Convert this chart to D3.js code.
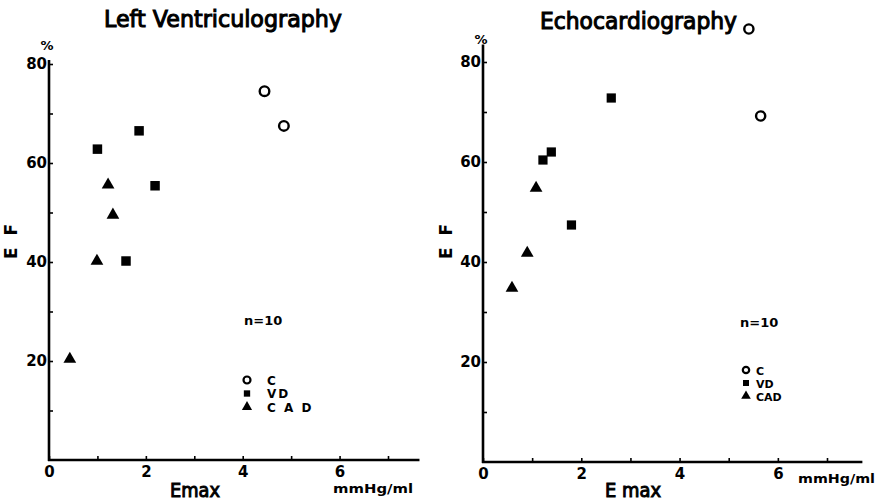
<!DOCTYPE html>
<html><head><meta charset="utf-8">
<script src="https://cdn.jsdelivr.net/npm/d3@7"></script>
<style>
body{margin:0;background:#fff;}
svg text{font-family:"DejaVu Sans",sans-serif;fill:#000;}
</style></head>
<body><svg id="c" width="876" height="502"></svg>
<script>
// Left Ventriculography data (Emax mmHg/ml, EF %)
const lvC   = [[4.45,74.5],[4.85,67.5]];
const lvVD  = [[1.0,62.8],[1.86,66.5],[2.19,55.4],[1.59,40.2]];
const lvCAD = [[1.22,55.4],[1.32,49.3],[0.99,40.0],[0.43,20.2]];
// Echocardiography data
const ecC   = [[5.41,86.6],[5.65,69.2]];
const ecVD  = [[2.61,72.8],[1.22,60.4],[1.39,62.0],[1.80,47.4]];
const ecCAD = [[1.08,54.6],[0.90,41.6],[0.59,34.6]];
// Tick values / labels
const yTicks = [10,20,30,40,50,60,70,80];
const yLabels = [20,40,60,80];
const xTicks = [0,1,2,3,4,5,6,7];
const xLabels = [0,2,4,6];
const titles = ["Left Ventriculography","Echocardiography"];

const svg = d3.select("#c");

function panel(cfg){
  const g = svg.append("g");
  const x = d3.scaleLinear().domain([0,7]).range(cfg.xr);
  const y = d3.scaleLinear().domain([0,80]).range(cfg.yr);
  // axes
  const ya = d3.axisLeft(y).tickValues(yTicks).tickSize(-4).tickPadding(2)
      .tickFormat(d => yLabels.includes(d) ? d : "");
  const gy = g.append("g").attr("transform",`translate(${x(0)},0)`).call(ya);
  gy.select(".domain").remove();
  gy.selectAll(".tick line").attr("stroke","#000").attr("stroke-width",1.6);
  gy.selectAll("text").attr("font-size",15).attr("font-weight","bold");
  g.append("line").attr("x1",x(0)).attr("x2",x(0)).attr("y1",y(0)+1).attr("y2",y(cfg.yTop))
    .attr("stroke","#000").attr("stroke-width",2.6);

  const xa = d3.axisBottom(x).tickValues(xTicks).tickSize(-4).tickPadding(6)
      .tickFormat(d => xLabels.includes(d) ? d : "");
  const gx = g.append("g").attr("transform",`translate(0,${y(0)})`).call(xa);
  gx.select(".domain").remove();
  gx.selectAll(".tick line").attr("stroke","#000").attr("stroke-width",1.6);
  gx.selectAll("text").attr("font-size",15).attr("font-weight","bold");
  g.append("line").attr("x1",x(0)-1).attr("x2",x(cfg.xEnd)).attr("y1",y(0)).attr("y2",y(0))
    .attr("stroke","#000").attr("stroke-width",2.6);

  // title
  g.append("text").attr("x",cfg.titleX).attr("y",cfg.titleY).attr("font-size",23)
    .attr("stroke","#000").attr("stroke-width",1.1)
    .attr("textLength",cfg.titleLen).attr("lengthAdjust","spacingAndGlyphs")
    .text(cfg.title);
  // % label
  g.append("text").attr("x",x(0)-2).attr("y",cfg.pctY).attr("text-anchor","middle")
    .attr("font-size",13).attr("font-weight","bold").text("%");
  // EF label
  g.append("text").attr("transform",`translate(${cfg.efX},${cfg.efY}) rotate(-90)`)
    .attr("text-anchor","middle").attr("font-size",17).attr("font-weight","bold")
    .attr("letter-spacing",3).text("E F");
  // Emax label
  g.append("text").attr("x",cfg.emaxX).attr("y",497).attr("font-size",19)
    .attr("stroke","#000").attr("stroke-width",1)
    .attr("textLength",cfg.emaxLen).attr("lengthAdjust","spacingAndGlyphs").text(cfg.emax);
  // unit
  g.append("text").attr("x",cfg.unitX).attr("y",cfg.unitY).attr("font-size",12).attr("font-weight","bold")
    .attr("textLength",cfg.unitLen).attr("lengthAdjust","spacingAndGlyphs").text("mmHg/ml");
  // n=10
  g.append("text").attr("x",cfg.nX).attr("y",cfg.nY).attr("font-size",13).attr("font-weight","bold").text("n=10");

  // points
  const sq = d3.symbol().type(d3.symbolSquare).size(cfg.sqSize);
  const tr = d3.symbol().type(d3.symbolTriangle).size(cfg.trSize);
  g.selectAll(".c").data(cfg.C).join("circle")
    .attr("cx",d=>x(d[0])).attr("cy",d=>y(d[1])).attr("r",cfg.cR)
    .attr("fill","none").attr("stroke","#000").attr("stroke-width",2.4);
  g.selectAll(".v").data(cfg.VD).join("path").attr("d",sq)
    .attr("transform",d=>`translate(${x(d[0])},${y(d[1])})`).attr("fill","#000");
  g.selectAll(".t").data(cfg.CAD).join("path").attr("d",tr)
    .attr("transform",d=>`translate(${x(d[0])},${y(d[1]) - 1})`).attr("fill","#000");

  // legend
  const lg = g.append("g");
  cfg.legLabels.forEach((lab,i)=>{
    const yy = cfg.legY + i*cfg.legDy;
    if(i===0) lg.append("circle").attr("cx",cfg.legX).attr("cy",yy).attr("r",cfg.legR)
      .attr("fill","none").attr("stroke","#000").attr("stroke-width",2.2);
    if(i===1) lg.append("path").attr("d",d3.symbol().type(d3.symbolSquare).size(cfg.legSq)())
      .attr("transform",`translate(${cfg.legX},${yy})`);
    if(i===2) lg.append("path").attr("d",d3.symbol().type(d3.symbolTriangle).size(cfg.legTr)())
      .attr("transform",`translate(${cfg.legX},${yy})`);
    lg.append("text").attr("x",cfg.legX+cfg.legTx).attr("y",yy+4.5).attr("font-size",cfg.legFs)
      .attr("font-weight","bold").attr("letter-spacing",cfg.legLs).text(lab);
  });
}

panel({
  xr:[49,388], yr:[460,64], yTop:80.8, xEnd:7.65,
  title:titles[0], titleX:104, titleY:27, titleLen:238,
  pctY:50, efX:17, efY:240, emax:"Emax", emaxX:170, emaxLen:50,
  unitX:333, unitY:493, unitLen:80, nX:244, nY:325,
  C:lvC, VD:lvVD, CAD:lvCAD, cR:4.8, sqSize:90, trSize:70,
  legLabels:["C","VD","C A D"], legX:247, legY:380, legDy:13.5, legR:3.5, legSq:40, legTr:45,
  legTx:20, legFs:12, legLs:2
});
panel({
  xr:[483,827], yr:[462,62], yTop:83.5, xEnd:7.72,
  title:titles[1], titleX:540, titleY:29, titleLen:197,
  pctY:44, efX:452, efY:240, emax:"E max", emaxX:605, emaxLen:56,
  unitX:798, unitY:483, unitLen:77, nX:740, nY:327,
  C:ecC, VD:ecVD, CAD:ecCAD, cR:4.6, sqSize:85, trSize:70,
  legLabels:["C","VD","CAD"], legX:746, legY:370, legDy:13, legR:3.2, legSq:36, legTr:40,
  legTx:10, legFs:11, legLs:0
});
</script>
</body></html>
